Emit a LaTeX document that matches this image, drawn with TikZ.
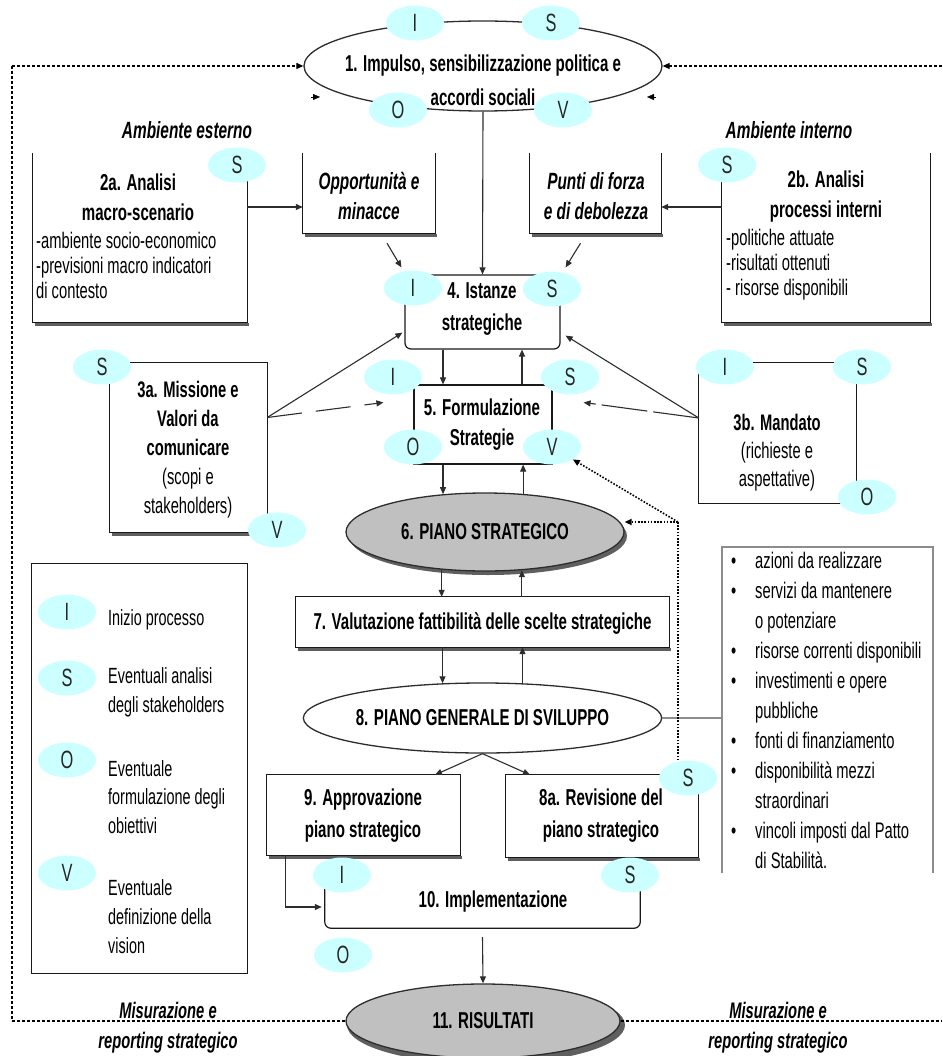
\documentclass[tikz,border=0pt]{standalone}
\usepackage{fontspec}
\setmainfont{Liberation Sans}[FakeStretch=0.655]
\usetikzlibrary{shapes.geometric,arrows.meta,calc}
\definecolor{cyanl}{RGB}{204,255,255}
\definecolor{grayfill}{RGB}{192,192,192}
\definecolor{lin}{RGB}{45,45,45}
\definecolor{shadc}{RGB}{95,95,95}
\definecolor{lgray}{RGB}{140,140,140}
\tikzset{
 ov/.style={ellipse, fill=cyanl, minimum width=58pt, minimum height=35pt, inner sep=0pt, font=\fontsize{25}{25}\selectfont, text=black!85},
 bxn/.style={rectangle, inner sep=0pt},
 ttl/.style={font=\bfseries\fontsize{23}{30}\selectfont, align=center, inner sep=0pt},
 body/.style={font=\fontsize{22.5}{25}\selectfont, align=left, inner sep=0pt},
 itl/.style={font=\bfseries\itshape\fontsize{23.5}{30}\selectfont, align=center, inner sep=0pt},
 bline/.style={line width=1.2pt, draw=black!90},
 shad/.style={line width=3pt, draw=shadc},
 arr/.style={-{Triangle[length=7pt,width=6pt]}, line width=1.1pt, draw=lin},
 atip/.style={-{Triangle[length=7pt,width=6pt]}},
 frm/.style={line width=1.1pt, dash pattern=on 3pt off 2pt, draw=black},
 dotl/.style={line width=1.6pt, dash pattern=on 1.6pt off 1.6pt, draw=black},
 bigell/.style={ellipse, inner sep=0pt, line width=1.3pt, draw=lin},
}
\newcommand\myob[1]{\draw[shad] ($(#1.south west)+(2,2)$) -- ($(#1.south east)+(2,2)$); \draw[bline] (#1.north west) -- (#1.south west) -- (#1.south east) -- (#1.north east);}
\newcommand\mycb[1]{\draw[shad] ($(#1.south west)+(2,2)$) -- ($(#1.south east)+(2,2)$); \draw[bline] (#1.north west) rectangle (#1.south east);}
\begin{document}
\begin{tikzpicture}[x=1pt,y=-1pt]
\useasboundingbox (0,0) rectangle (942,1056);
\fill[white] (0,0) rectangle (942,1056);

% ---------- main ellipses ----------
\node[bigell, fill=white, minimum width=358pt, minimum height=90pt] (e1) at (483,66) {};
\node[ttl, font=\bfseries\fontsize{23}{34}\selectfont] (t1) at (483,80) {1. Impulso, sensibilizzazione politica e\\accordi sociali};

\node[ellipse, fill=shadc, minimum width=278pt, minimum height=78pt, inner sep=0pt] (e11s) at (486,1025) {};
\node[bigell, fill=grayfill, minimum width=274pt, minimum height=74pt, font=\bfseries\fontsize{23}{23}\selectfont] (e11) at (483,1021) {11. RISULTATI};

% ---------- dashed frame ----------
\coordinate (fTL) at (12,66);
\coordinate (fTR) at (942,66);
\coordinate (fBL) at (12,1021);
\coordinate (fBR) at (942,1021);
\draw[frm, atip] (fTL) -- (e1.west);
\draw[frm, atip] (fTR) -- (e1.east);
\draw[frm] (fTL) -- (fBL);
\draw[frm] (fBL) -- (e11.west);
\draw[frm] (e11.east) -- (fBR);
\coordinate (k1) at (311,97);
\coordinate (k2) at (320,97);
\coordinate (k3) at (656,97);
\coordinate (k4) at (647,97);
\draw[atip, line width=0.2pt] (k1) -- (k2);
\draw[atip, line width=0.2pt] (k3) -- (k4);

\node[itl] (amb1) at (187,130) {Ambiente esterno};
\node[itl] (amb2) at (789,130) {Ambiente interno};

% ---------- row 2 boxes ----------
\node[bxn, minimum width=214pt, minimum height=169pt] (b2a) at (140,237.5) {};
\myob{b2a}
\node[ttl] (t2a) at (138,197) {2a. Analisi\\macro-scenario};
\node[body, anchor=west] (l2a) at (36,265) {-ambiente socio-economico\\-previsioni macro indicatori\\di contesto};

\node[bxn, minimum width=132pt, minimum height=80pt] (bopp) at (369,193) {};
\myob{bopp}
\node[itl] (topp) at (369,196) {Opportunità e\\minacce};

\node[bxn, minimum width=131pt, minimum height=80pt] (bpun) at (595.5,193) {};
\myob{bpun}
\node[itl] (tpun) at (596,196) {Punti di forza\\e di debolezza};

\node[bxn, minimum width=208pt, minimum height=169pt] (b2b) at (826,237.5) {};
\myob{b2b}
\node[ttl] (t2b) at (826,197) {2b. Analisi\\processi interni};
\node[body, anchor=west] (l2b) at (726,265) {-politiche attuate\\-risultati ottenuti\\- risorse disponibili};

\coordinate (oppin) at ([yshift=-14pt]bopp.west);
\coordinate (punin) at ([yshift=-14pt]bpun.east);
\draw[arr] (b2a.east |- oppin) -- (oppin);
\draw[arr] (b2b.west |- punin) -- (punin);

% ---------- box 4 and 5 ----------
\node[bxn, draw=black!90, line width=1.2pt, rounded corners=6pt, minimum width=155pt, minimum height=74pt] (b4) at (482.5,312) {};
\node[ttl, font=\bfseries\fontsize{23}{32}\selectfont] (t4) at (482,309) {4. Istanze\\strategiche};

\node[bxn, draw=black!90, line width=1.2pt, minimum width=138pt, minimum height=79pt] (b5) at (483,424.5) {};
\node[ttl, font=\bfseries\fontsize{23}{30}\selectfont] (t5) at (482,425) {5. Formulazione\\Strategie};

\draw[arr] (e1.south) -- (b4.north);
\draw[arr] ($(bopp.south)+(18,10)$) -- ($(b4.north west)+(-3,-7)$);
\draw[arr] ($(bpun.south)+(-15,10)$) -- ($(b4.north east)+(5,-7)$);
\draw[arr] ($(b4.south)+(-39.5,0)$) -- ($(b5.north)+(-40,0)$);
\draw[arr] ($(b5.north)+(39,0)$) -- ($(b4.south)+(39.5,0)$);

% ---------- 3a and 3b ----------
\node[bxn, minimum width=157pt, minimum height=169pt] (b3a) at (188.5,447.5) {};
\mycb{b3a}
\node[align=center, inner sep=0pt, font=\fontsize{22.5}{29}\selectfont] (t3a) at (188,450) {\textbf{3a. Missione e}\\\textbf{Valori da}\\\textbf{comunicare}\\(scopi e\\stakeholders)};

\node[bxn, minimum width=157pt, minimum height=140pt] (b3b) at (777.5,433) {};
\draw[bline] (b3b.north west) rectangle (b3b.south east);
\node[align=center, inner sep=0pt, font=\fontsize{22.5}{28}\selectfont] (t3b) at (777,453) {\textbf{3b. Mandato}\\(richieste e\\aspettative)};

\coordinate (a3) at ([yshift=30pt]b3a.east);
\coordinate (a3b) at ([yshift=15pt]b3b.west);
\draw[arr] (a3) -- ($(b4.south west)+(-2,-17)$);
\draw[arr, dash pattern=on 35pt off 14pt] (a3) -- ($(b5.west)+(-30,-22)$);
\draw[arr] (a3b) -- ($(b4.south east)+(5,-14)$);
\draw[arr, dash pattern=on 46pt off 6pt] (a3b) -- ($(b5.east)+(31,-22)$);

% ---------- 6 ----------
\node[ellipse, fill=shadc, minimum width=278pt, minimum height=78pt, inner sep=0pt] (e6s) at (488,536) {};
\node[bigell, fill=grayfill, minimum width=278pt, minimum height=78pt, font=\bfseries\fontsize{23}{23}\selectfont] (e6) at (485,532) {6. PIANO STRATEGICO};
\draw[arr] (e6.138.5 |- b5.south) -- (e6.138.5);
\draw[arr] (e6.45.5) -- (e6.45.5 |- b5.south);

% ---------- 7 ----------
\node[bxn, minimum width=373pt, minimum height=50pt] (b7) at (482.5,622) {};
\mycb{b7}
\node[ttl, font=\bfseries\fontsize{23}{24}\selectfont] (t7) at (482.5,623) {7. Valutazione fattibilità delle scelte strategiche};
\draw[arr] (e6.221.5) -- (e6.221.5 |- b7.north);
\draw[arr] (e6.314.5 |- b7.north) -- (e6.314.5);

% ---------- 8 ----------
\node[bigell, fill=white, minimum width=355pt, minimum height=70pt, font=\bfseries\fontsize{23}{23}\selectfont] (e8) at (482.5,718) {8. PIANO GENERALE DI SVILUPPO};
\draw[arr] (e8.139.2 |- b7.south) -- (e8.139.2);
\draw[arr] (e8.41.6) -- (e8.41.6 |- b7.south);

% ---------- list ----------
\node[bxn, minimum width=211pt, minimum height=326pt] (lst) at (827.5,710) {};
\draw[lgray, line width=1.5pt] (lst.south west) -- (lst.north west) -- (lst.north east) -- (lst.south east);
\draw[lgray, line width=1.2pt] (e8.east) -- (lst.west |- e8.east);
\node[anchor=west, inner sep=0pt, font=\fontsize{22.5}{30}\selectfont] (lstt) at (731,712.5) {%
\begin{tabular}{@{}p{24pt}@{}l@{}}
\textbullet & azioni da realizzare\\
\textbullet & servizi da mantenere\\
 & o potenziare\\
\textbullet & risorse correnti disponibili\\
\textbullet & investimenti e opere\\
 & pubbliche\\
\textbullet & fonti di finanziamento\\
\textbullet & disponibilità mezzi\\
 & straordinari\\
\textbullet & vincoli imposti dal Patto\\
 & di Stabilità.
\end{tabular}};

% ---------- 9 and 8a ----------
\node[bxn, minimum width=193pt, minimum height=80pt] (b9) at (363.5,815) {};
\mycb{b9}
\node[ttl, font=\bfseries\fontsize{23}{32}\selectfont] (t9) at (363,816) {9. Approvazione\\piano strategico};

\node[bxn, minimum width=192pt, minimum height=82pt] (b8a) at (602,816) {};
\mycb{b8a}
\node[ttl, font=\bfseries\fontsize{23}{32}\selectfont] (t8a) at (601,816) {8a. Revisione del\\piano strategico};

\draw[arr] (e8.south) -- ($(b9.north)+(71.5,0)$);
\draw[arr] (e8.south) -- ($(b8a.north)+(-72,0)$);

% ---------- 10 ----------
\node[bxn, minimum width=315pt, minimum height=58pt] (b10) at (482.5,899) {};
\draw[bline, rounded corners=6pt] (b10.north west) -- (b10.south west) -- (b10.south east) -- (b10.north east);
\node[ttl, font=\bfseries\fontsize{23}{24}\selectfont] (t10) at (493,902) {10. Implementazione};
\draw[arr] ($(b9.south west)+(19,0)$) |- ($(b10.west)+(-3,8)$);
\draw[arr] ($(b10.south)+(0,9)$) -- (e11.north);

% ---------- legend ----------
\node[bxn, minimum width=215pt, minimum height=409pt] (leg) at (139.5,768.5) {};
\draw[bline] (leg.north west) rectangle (leg.south east);
\node[body, anchor=west, font=\fontsize{22}{29}\selectfont] (lt1) at (108,620) {Inizio processo};
\node[body, anchor=west, font=\fontsize{22}{29}\selectfont] (lt2) at (108,692.5) {Eventuali analisi\\degli stakeholders};
\node[body, anchor=west, font=\fontsize{22}{28.5}\selectfont] (lt3) at (108,797) {Eventuale\\formulazione degli\\obiettivi};
\node[body, anchor=west, font=\fontsize{22}{29}\selectfont] (lt4) at (108,916.5) {Eventuale\\definizione della\\vision};

% ---------- bottom labels ----------
\node[itl, font=\bfseries\itshape\fontsize{22.5}{30}\selectfont] (mis1) at (168,1028) {Misurazione e\\reporting strategico};
\node[itl, font=\bfseries\itshape\fontsize{22.5}{30}\selectfont] (mis2) at (778,1028) {Misurazione e\\reporting strategico};

% ---------- small ellipses ----------
\node[ov] (i1) at (415,23) {I};
\node[ov] (s1) at (551,23) {S};
\node[ov] (o1) at (398,110) {O};
\node[ov] (v1) at (563,110) {V};
\node[ov] (s2a) at (237,165) {S};
\node[ov] (s2b) at (727,165) {S};
\node[ov] (i4) at (413,288) {I};
\node[ov] (s4) at (552,289) {S};
\node[ov] (i5) at (393,377) {I};
\node[ov] (s5) at (570,377) {S};
\node[ov] (o5) at (413,447) {O};
\node[ov] (v5) at (552,447) {V};
\node[ov] (s3a) at (102,367) {S};
\node[ov] (v3a) at (277,530) {V};
\node[ov] (i3b) at (725,367) {I};
\node[ov] (s3b) at (862,367) {S};
\node[ov] (o3b) at (867,497) {O};
\node[ov] (s8a) at (688,778) {S};
\node[ov] (i10) at (342,875) {I};
\node[ov] (s10) at (630,875) {S};
\node[ov] (o10) at (343,955) {O};
\node[ov] (li) at (67,612) {I};
\node[ov] (ls) at (67,678) {S};
\node[ov] (lo) at (67,760) {O};
\node[ov] (lv) at (67,873) {V};

% ---------- dotted feedback ----------
\coordinate (dj) at (678,522);
\draw[dotl] (s8a.north -| dj) -- (dj);
\draw[dotl, atip] (dj) -- (e6.east |- dj);
\draw[dotl, atip] (dj) -- (v5);
\end{tikzpicture}
\end{document}
